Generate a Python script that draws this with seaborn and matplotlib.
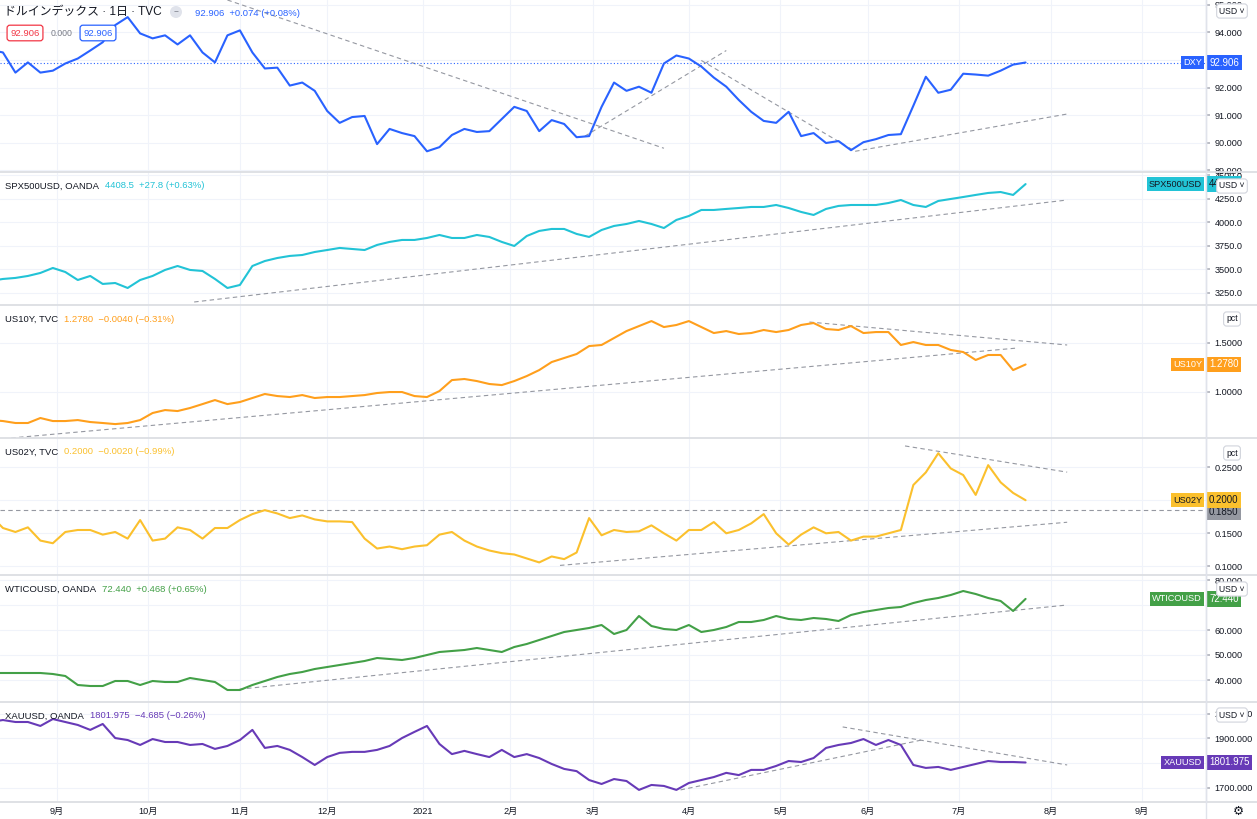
import numpy as np
import pandas as pd
import matplotlib
matplotlib.use("Agg")
import matplotlib.pyplot as plt
import seaborn as sns
from matplotlib.lines import Line2D

sns.set_theme(style="white")
plt.rcParams["font.family"] = ["Liberation Sans", "Noto Sans CJK JP", "DejaVu Sans"]

# ---------------- data ----------------
# sampling grid: every 3rd trading day, 2020-08-10 .. 2021-07-23
dates = pd.bdate_range("2020-08-10", periods=84, freq="3B")

dxy = [93.36, 93.27, 92.54, 92.91, 92.54, 92.61, 92.87, 93.05, 93.34, 93.64,
       94.26, 94.55, 93.96, 93.78, 93.89, 93.56, 93.89, 93.27, 92.91, 93.89,
       94.07, 93.27, 92.69, 92.72, 92.07, 92.18, 91.88, 91.15, 90.72, 90.93,
       90.97, 89.95, 90.50, 90.35, 90.24, 89.69, 89.84, 90.28, 90.50, 90.39,
       90.42, 90.86, 91.30, 91.15, 90.42, 90.82, 90.68, 90.20, 90.24, 91.30,
       92.18, 91.88, 92.03, 91.81, 92.87, 93.16, 93.05, 92.76, 92.36, 92.03,
       91.55, 91.12, 90.79, 90.72, 91.12, 90.24, 90.35, 89.99, 90.06, 89.73,
       90.02, 90.13, 90.28, 90.31, 91.34, 92.39, 91.81, 91.92, 92.50, 92.47,
       92.43, 92.61, 92.83, 92.906]

spx = [3378, 3399, 3410, 3431, 3463, 3516, 3473, 3388, 3431, 3346,
       3356, 3303, 3388, 3431, 3495, 3537, 3495, 3484, 3399, 3303,
       3335, 3537, 3590, 3622, 3644, 3654, 3686, 3707, 3729, 3718,
       3707, 3761, 3793, 3814, 3814, 3835, 3867, 3835, 3835, 3867,
       3846, 3793, 3750, 3856, 3910, 3931, 3931, 3878, 3846, 3920,
       3963, 3984, 4016, 3984, 3941, 4027, 4069, 4133, 4133, 4144,
       4154, 4165, 4165, 4186, 4154, 4112, 4080, 4144, 4176, 4186,
       4186, 4186, 4207, 4239, 4186, 4165, 4229, 4250, 4271, 4293,
       4314, 4324, 4293, 4408.5]

us10y = [0.711, 0.701, 0.681, 0.681, 0.732, 0.701, 0.701, 0.711, 0.691, 0.681,
         0.670, 0.681, 0.711, 0.783, 0.813, 0.803, 0.834, 0.874, 0.915, 0.874,
         0.895, 0.936, 0.977, 0.956, 0.946, 0.966, 0.936, 0.946, 0.946, 0.956,
         0.966, 0.987, 0.997, 0.997, 0.956, 0.946, 1.007, 1.119, 1.130, 1.109,
         1.079, 1.068, 1.109, 1.160, 1.221, 1.303, 1.344, 1.385, 1.466, 1.477,
         1.548, 1.619, 1.670, 1.721, 1.660, 1.681, 1.721, 1.660, 1.599, 1.619,
         1.589, 1.599, 1.630, 1.609, 1.630, 1.681, 1.701, 1.640, 1.630, 1.670,
         1.599, 1.609, 1.609, 1.477, 1.507, 1.477, 1.477, 1.426, 1.405, 1.324,
         1.375, 1.375, 1.221, 1.278]

us02y = [0.177, 0.158, 0.152, 0.159, 0.139, 0.135, 0.152, 0.155, 0.155, 0.148,
         0.152, 0.142, 0.170, 0.139, 0.142, 0.159, 0.155, 0.142, 0.158, 0.158,
         0.170, 0.179, 0.185, 0.180, 0.173, 0.177, 0.171, 0.168, 0.168, 0.167,
         0.142, 0.127, 0.130, 0.126, 0.130, 0.132, 0.148, 0.152, 0.139, 0.130,
         0.124, 0.120, 0.118, 0.112, 0.106, 0.115, 0.111, 0.121, 0.173, 0.147,
         0.155, 0.152, 0.153, 0.162, 0.150, 0.139, 0.155, 0.155, 0.167, 0.150,
         0.155, 0.165, 0.179, 0.150, 0.133, 0.148, 0.159, 0.150, 0.152, 0.139,
         0.145, 0.145, 0.150, 0.155, 0.223, 0.242, 0.271, 0.248, 0.238, 0.208,
         0.253, 0.227, 0.211, 0.200]

wti = [42.8, 42.8, 42.8, 42.8, 42.8, 42.4, 41.6, 38.0, 37.6, 37.6,
       39.6, 39.6, 38.0, 39.6, 39.2, 39.2, 40.8, 40.0, 39.2, 36.0,
       36.0, 38.0, 39.6, 41.2, 42.4, 43.2, 44.4, 45.2, 46.0, 46.8,
       47.6, 48.8, 48.4, 48.0, 48.8, 50.0, 51.2, 51.6, 52.0, 52.8,
       52.0, 51.2, 53.2, 54.4, 56.0, 57.6, 59.2, 60.0, 60.8, 62.0,
       58.4, 60.0, 65.6, 61.6, 60.4, 60.0, 62.0, 59.2, 60.0, 61.2,
       63.2, 63.2, 64.0, 65.6, 64.4, 64.0, 64.8, 64.4, 63.6, 66.0,
       67.2, 68.0, 68.8, 69.2, 70.8, 72.0, 72.8, 74.0, 75.6, 74.4,
       72.8, 71.6, 67.6, 72.44]

xau = [1966, 1974, 1966, 1966, 1950, 1978, 1966, 1954, 1934, 1958,
       1901, 1893, 1873, 1897, 1885, 1885, 1873, 1877, 1857, 1869,
       1893, 1934, 1861, 1869, 1853, 1824, 1792, 1824, 1841, 1845,
       1845, 1853, 1869, 1901, 1926, 1950, 1877, 1836, 1849, 1836,
       1824, 1853, 1824, 1836, 1820, 1796, 1776, 1767, 1731, 1715,
       1735, 1727, 1691, 1711, 1707, 1691, 1719, 1731, 1743, 1760,
       1751, 1772, 1772, 1788, 1808, 1804, 1820, 1861, 1873, 1881,
       1897, 1873, 1893, 1873, 1792, 1780, 1784, 1772, 1784, 1796,
       1808, 1804, 1804, 1801.975]

# drawn trend lines: (start date, start value, end date, end value)
trend_dxy = [("2020-10-28", 95.17, "2021-03-24", 89.80),
             ("2021-02-25", 90.24, "2021-04-14", 93.34),
             ("2021-04-06", 92.98, "2021-05-27", 89.69),
             ("2021-05-27", 89.69, "2021-08-06", 91.04)]
trend_spx = [("2020-10-16", 3154, "2021-08-06", 4239)]
trend_10y = [("2020-08-17", 0.528, "2021-07-21", 1.446),
             ("2021-05-12", 1.711, "2021-08-06", 1.477)]
trend_02y = [("2021-02-17", 0.1015, "2021-08-06", 0.1667),
             ("2021-06-14", 0.282, "2021-08-06", 0.2424)]
trend_wti = [("2020-10-29", 36.0, "2021-08-06", 70.0)]
trend_xau = [("2021-03-30", 1691, "2021-06-18", 1893),
             ("2021-05-24", 1946, "2021-08-06", 1792)]
hline_02y = 0.185

month_dates = ["2020-09-01", "2020-10-01", "2020-11-01", "2020-12-01", "2021-01-01",
               "2021-02-01", "2021-03-01", "2021-04-01", "2021-05-01", "2021-06-01",
               "2021-07-01", "2021-08-01", "2021-09-01"]
month_labels = ["9月", "10月", "11月", "12月", "2021", "2月", "3月", "4月", "5月",
                "6月", "7月", "8月", "9月"]

# ---------------- helpers ----------------
ORIGIN = np.datetime64("2020-09-01")


def bar(d):
    return np.busday_count(ORIGIN, np.asarray(d, dtype="datetime64[D]"))


xs = bar(dates.values.astype("datetime64[D]"))
month_x = bar(month_dates)

W, H = 1257, 819
AXR = 1206
fig = plt.figure(figsize=(W / 100, H / 100), dpi=100)
fig.patch.set_facecolor("white")

panels_px = [(0, 172), (172, 305), (305, 438), (438, 575), (575, 702), (702, 802)]

cfg = [
    dict(v=dxy, c="#2962FF", ylim=(88.94, 95.17), ticks=[89, 90, 91, 92, 93, 94, 95], hide=[93],
         fmt="{:.3f}", tag="DXY", tagv="92.906", tagtc="white", trends=trend_dxy),
    dict(v=spx, c="#22C3D6", ylim=(3122, 4537), ticks=[3250, 3500, 3750, 4000, 4250, 4500], hide=[],
         fmt="{:.1f}", tag="SPX500USD", tagv="4408.5", tagtc="#131722", trends=trend_spx,
         title="SPX500USD, OANDA", tval="4408.5  +27.8 (+0.63%)"),
    dict(v=us10y, c="#FF9F1C", ylim=(0.528, 1.885), ticks=[1.0, 1.5], hide=[],
         fmt="{:.4f}", tag="US10Y", tagv="1.2780", tagtc="white", trends=trend_10y,
         title="US10Y, TVC", tval="1.2780  \u22120.0040 (\u22120.31%)"),
    dict(v=us02y, c="#FBC02D", ylim=(0.087, 0.294), ticks=[0.10, 0.15, 0.20, 0.25], hide=[0.20],
         fmt="{:.4f}", tag="US02Y", tagv="0.2000", tagtc="#131722", trends=trend_02y,
         title="US02Y, TVC", tval="0.2000  \u22120.0020 (\u22120.99%)"),
    dict(v=wti, c="#43A047", ylim=(31.2, 82.0), ticks=[40, 50, 60, 70, 80], hide=[70],
         fmt="{:.3f}", tag="WTICOUSD", tagv="72.440", tagtc="white", trends=trend_wti,
         title="WTICOUSD, OANDA", tval="72.440  +0.468 (+0.65%)"),
    dict(v=xau, c="#673AB7", ylim=(1642, 2047), ticks=[1700, 1800, 1900, 2000], hide=[1800],
         fmt="{:.3f}", tag="XAUUSD", tagv="1801.975", tagtc="white", trends=trend_xau,
         title="XAUUSD, OANDA", tval="1801.975  \u22124.685 (\u22120.26%)"),
]

GRID = "#f0f3fa"
TXT = "#131722"
TREND = "#9598A1"
FS = 6.6

axes = []
for i, ((t, b), c) in enumerate(zip(panels_px, cfg)):
    ax = fig.add_axes([0, 1 - b / H, AXR / W, (b - t) / H])
    axes.append(ax)
    ax.set_facecolor("white")
    df = pd.DataFrame({"x": xs, "v": c["v"]})
    sns.lineplot(data=df, x="x", y="v", ax=ax, color=c["c"], linewidth=1.5, zorder=3)
    for (d0, v0, d1, v1) in c["trends"]:
        ax.plot([bar(d0), bar(d1)], [v0, v1], color=TREND, lw=0.8, ls=(0, (4, 3)), zorder=2)
    ax.set_xlim(-13.71, 276.4)
    ax.set_ylim(*c["ylim"])
    ax.set_xticks(month_x)
    ax.set_yticks(c["ticks"])
    ax.set_yticklabels(["" if any(abs(v - h) < 1e-9 for h in c["hide"]) else c["fmt"].format(v)
                        for v in c["ticks"]])
    ax.yaxis.tick_right()
    ax.tick_params(axis="y", length=3, color="#b2b5be", labelsize=FS, labelcolor=TXT, pad=3)
    ax.tick_params(axis="x", length=0, labelsize=FS, labelcolor=TXT, pad=3.5)
    if i < 5:
        ax.set_xticklabels([])
    else:
        ax.set_xticklabels(month_labels)
    ax.grid(True, color=GRID, lw=0.8, zorder=0)
    ax.set_xlabel("")
    ax.set_ylabel("")
    for s in ["left", "top", "bottom"]:
        ax.spines[s].set_visible(False)
    ax.spines["right"].set_color("#e0e3eb")
    ax.spines["right"].set_linewidth(1.0)

    # price tags on the scale
    last = c["v"][-1]
    ax.annotate(c["tag"], xy=(1, last), xycoords=("axes fraction", "data"),
                xytext=(-4, 0), textcoords="offset pixels", ha="right", va="center",
                fontsize=FS, color=c["tagtc"], annotation_clip=False, zorder=10,
                bbox=dict(boxstyle="square,pad=0.25", fc=c["c"], ec="none"))
    ax.annotate(c["tagv"], xy=(1, last), xycoords=("axes fraction", "data"),
                xytext=(3, 0), textcoords="offset pixels", ha="left", va="center",
                fontsize=FS + 0.4, color=c["tagtc"], annotation_clip=False, zorder=10,
                bbox=dict(boxstyle="square,pad=0.3", fc=c["c"], ec="none"))

    if "title" in c:
        name = ax.annotate(c["title"], xy=(0, 1), xycoords="axes fraction", xytext=(5, -14),
                           textcoords="offset pixels", ha="left", va="center", fontsize=FS + 0.2,
                           color=TXT, zorder=10)
        ax.annotate(c["tval"], xy=(1, 0.5), xycoords=name, xytext=(6, 0),
                    textcoords="offset pixels", ha="left", va="center", fontsize=FS + 0.2,
                    color=c["c"], zorder=10)

# DXY extras
ax0 = axes[0]
ax0.axhline(dxy[-1], color="#2962FF", lw=0.8, ls=(0, (1, 2)), zorder=2)
ax0.annotate("ドルインデックス · 1日 · TVC", xy=(0, 1), xycoords="axes fraction", xytext=(4, -12),
             textcoords="offset pixels", ha="left", va="center", fontsize=8.6, color=TXT, zorder=10)
ax0.annotate("\u2212", xy=(0, 1), xycoords="axes fraction", xytext=(176, -12),
             textcoords="offset pixels", ha="center", va="center", fontsize=6, color="#787b86",
             bbox=dict(boxstyle="circle,pad=0.3", fc="#e0e3eb", ec="none"), zorder=10)
ax0.annotate("92.906  +0.074 (+0.08%)", xy=(0, 1), xycoords="axes fraction", xytext=(195, -13),
             textcoords="offset pixels", ha="left", va="center", fontsize=FS + 0.2,
             color="#2962FF", zorder=10)
ax0.annotate("92.906", xy=(0, 1), xycoords="axes fraction", xytext=(25, -33),
             textcoords="offset pixels", ha="center", va="center", fontsize=FS + 0.2,
             color="#F23645", zorder=10,
             bbox=dict(boxstyle="round,pad=0.35,rounding_size=0.3", fc="white", ec="#F23645", lw=0.9))
ax0.annotate("0.000", xy=(0, 1), xycoords="axes fraction", xytext=(62, -33),
             textcoords="offset pixels", ha="center", va="center", fontsize=FS - 0.3,
             color="#787b86", zorder=10)
ax0.annotate("92.906", xy=(0, 1), xycoords="axes fraction", xytext=(98, -33),
             textcoords="offset pixels", ha="center", va="center", fontsize=FS + 0.2,
             color="#2962FF", zorder=10,
             bbox=dict(boxstyle="round,pad=0.35,rounding_size=0.3", fc="white", ec="#2962FF", lw=0.9))

# US02Y horizontal line with gray tag
ax3 = axes[3]
ax3.axhline(hline_02y, color=TREND, lw=0.8, ls=(0, (4, 3)), zorder=2)
ax3.annotate("0.1850", xy=(1, hline_02y), xycoords=("axes fraction", "data"),
             xytext=(3, -2), textcoords="offset pixels", ha="left", va="center",
             fontsize=FS + 0.4, color=TXT, annotation_clip=False, zorder=9,
             bbox=dict(boxstyle="square,pad=0.3", fc="#9598A1", ec="none"))

# separators and scale border
for y in [172, 305, 438, 575, 702, 802]:
    fig.add_artist(Line2D([0, 1], [1 - y / H] * 2, transform=fig.transFigure,
                          color="#dcdee3", lw=1.3, zorder=20))
fig.add_artist(Line2D([AXR / W] * 2, [0, 1], transform=fig.transFigure,
                      color="#e0e3eb", lw=1.0, zorder=20))


# small UI boxes on the price scale
def ui_box(txt, x, y):
    fig.text(x / W, 1 - y / H, txt, ha="center", va="center", fontsize=FS - 0.4, color=TXT,
             zorder=30, family=["Liberation Sans", "DejaVu Sans"],
             bbox=dict(boxstyle="round,pad=0.3,rounding_size=0.35", fc="white", ec="#d1d4dc", lw=0.8))


ui_box("USD \u02C5", 1232, 11)
ui_box("USD \u02C5", 1232, 186)
ui_box("pct", 1232, 319)
ui_box("pct", 1232, 453)
ui_box("USD \u02C5", 1232, 589)
ui_box("USD \u02C5", 1232, 715)
fig.text(1238 / W, 1 - 811 / H, "\u2699", ha="center", va="center", fontsize=9, color=TXT,
         family=["DejaVu Sans"])

fig.savefig("out.png", dpi=100, facecolor="white")
